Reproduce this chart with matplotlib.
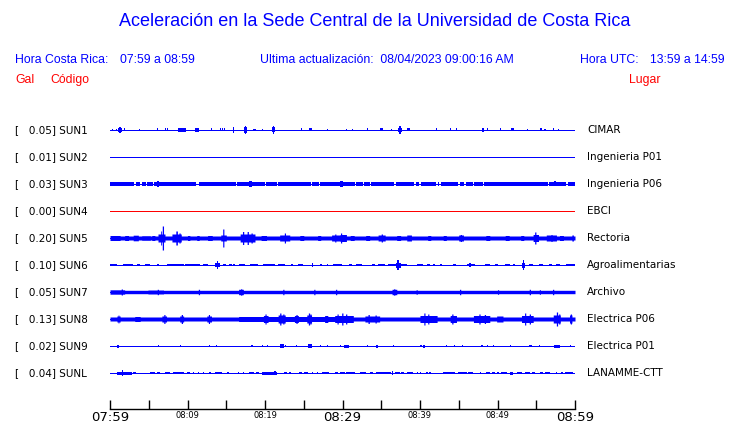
import numpy as np
import matplotlib
matplotlib.use("Agg")
import matplotlib.pyplot as plt

# ---------------- data ----------------
codes = ['SUN1', 'SUN2', 'SUN3', 'SUN4', 'SUN5', 'SUN6', 'SUN7', 'SUN8', 'SUN9', 'SUNL']
gal = [0.05, 0.01, 0.03, 0.00, 0.20, 0.10, 0.05, 0.13, 0.02, 0.04]
places = ['CIMAR', 'Ingenieria P01', 'Ingenieria P06', 'EBCI', 'Rectoria',
          'Agroalimentarias', 'Archivo', 'Electrica P06', 'Electrica P01', 'LANAMME-CTT']
trace_colors = ['#0000ff', '#0000ff', '#0000ff', '#ff0000', '#0000ff',
                '#0000ff', '#0000ff', '#0000ff', '#0000ff', '#0000ff']

# background (minimum) half-amplitude of each trace, in display units
base_amp = [0.0, 0.0, 0.0, 0.0, 2.0, 0.0, 1.7, 2.0, 0.0, 0.0]

# bursts per station: (start minute, end minute, half-amplitude)
bursts_sun1 = [(0.3, 0.45, 1.0), (0.8, 0.95, 1.2), (1.0, 1.6, 2.0), (1.2, 1.35, 3.0), (1.75, 1.95, 1.5),
               (3.75, 3.9, 1.3), (6.05, 6.2, 1.5), (7.15, 7.3, 1.5), (7.4, 7.55, 1.5), (8.8, 9.8, 1.7),
               (11.0, 11.5, 2.0), (13.05, 13.2, 1.5), (14.15, 14.3, 1.5), (14.45, 14.6, 1.5),
               (14.75, 14.9, 1.5), (15.85, 16.0, 3.0), (17.3, 17.7, 3.0), (17.45, 17.6, 4.0),
               (18.4, 18.8, 0.9), (19.55, 19.7, 1.3), (20.9, 21.3, 2.5), (21.0, 21.15, 4.0),
               (24.65, 24.8, 1.5), (25.7, 26.0, 1.5), (28.05, 28.2, 1.0), (30.45, 30.6, 1.0),
               (31.25, 31.4, 1.0), (33.15, 33.3, 1.5), (34.8, 35.3, 1.5), (36.25, 36.4, 1.0),
               (37.2, 37.7, 2.0), (37.35, 37.5, 4.0), (38.3, 38.7, 1.5), (42.0, 42.2, 1.5),
               (43.85, 44.0, 1.5), (44.65, 44.8, 1.5), (48.0, 48.2, 1.7), (48.6, 48.8, 1.5),
               (50.35, 50.5, 1.5), (51.8, 52.1, 1.5), (53.75, 53.9, 1.0), (55.5, 55.7, 1.5),
               (56.0, 56.3, 1.3), (57.1, 57.3, 1.5), (57.75, 57.9, 1.3)]
bursts_sun2 = []
bursts_sun3 = [(0.0, 3.1, 1.7), (3.3, 3.85, 1.7), (4.15, 4.6, 1.7), (4.8, 5.5, 1.7), (5.7, 11.1, 1.7),
               (11.5, 16.2, 1.7), (16.4, 19.9, 1.7), (20.1, 21.6, 1.7), (21.8, 25.9, 1.7),
               (26.1, 27.0, 1.7), (27.2, 31.5, 1.7), (31.7, 32.6, 1.7), (32.8, 33.5, 1.7),
               (33.7, 36.7, 1.7), (36.9, 39.3, 1.7), (39.5, 39.9, 1.7), (40.1, 42.1, 1.7),
               (42.3, 42.5, 1.7), (42.7, 44.9, 1.7), (45.1, 45.7, 1.7), (45.9, 46.8, 1.7),
               (47.0, 48.1, 1.7), (48.3, 56.5, 1.7), (56.7, 58.9, 1.7), (59.1, 60.0, 1.7),
               (6.15, 6.3, 2.5), (6.85, 7.0, 2.0), (18.0, 18.2, 3.0), (22.95, 23.1, 2.0),
               (29.8, 29.95, 2.5), (57.35, 57.5, 2.5)]
bursts_sun4 = []
bursts_sun5 = [(0.0, 1.3, 2.5), (1.9, 2.4, 2.5), (3.0, 3.66, 2.8), (4.1, 5.2, 2.3), (5.4, 5.8, 2.5),
               (6.2, 7.1, 4.0), (6.55, 6.65, 7.0), (6.75, 6.9, 12.0), (8.0, 9.2, 4.0), (8.5, 8.7, 7.0),
               (8.9, 9.05, 5.0), (10.0, 10.3, 2.5), (11.2, 11.5, 2.5), (12.6, 13.2, 2.5),
               (14.3, 15.0, 3.0), (14.55, 14.7, 9.0), (16.8, 18.7, 4.0), (17.1, 17.25, 6.5),
               (17.7, 17.85, 6.5), (18.2, 18.35, 5.0), (19.5, 20.2, 2.5), (21.9, 23.2, 3.0),
               (22.5, 22.65, 5.0), (24.5, 25.0, 2.5), (26.8, 27.2, 2.5), (28.6, 29.7, 3.0),
               (29.0, 29.15, 4.0), (29.7, 30.5, 3.5), (29.75, 29.9, 5.0), (31.0, 31.5, 2.5),
               (33.0, 33.5, 2.5), (34.6, 35.5, 3.0), (35.0, 35.15, 4.0), (37.0, 37.5, 2.5),
               (38.3, 38.9, 3.0), (41.0, 41.4, 2.5), (43.0, 43.4, 2.5), (45.0, 45.6, 3.0),
               (45.2, 45.35, 3.5), (48.5, 49.0, 2.5), (51.0, 51.5, 2.5), (53.0, 53.4, 2.5),
               (54.6, 55.3, 3.5), (54.8, 54.95, 6.0), (56.3, 57.6, 3.0), (56.9, 57.05, 3.5),
               (58.0, 58.5, 2.5), (59.6, 59.8, 3.0)]
bursts_sun6 = [(0.0, 0.86, 1.3), (1.72, 3.0, 1.3), (3.44, 3.87, 1.3), (4.5, 5.16, 1.3), (6.1, 6.3, 1.3),
               (7.3, 9.5, 1.3), (9.7, 11.6, 1.3), (12.0, 12.7, 1.3), (13.5, 14.2, 2.0), (13.75, 13.95, 3.5),
               (14.6, 15.0, 1.3), (15.3, 15.7, 1.3), (15.9, 16.1, 1.3), (16.6, 17.4, 1.3),
               (18.1, 19.1, 1.3), (19.8, 21.3, 1.3), (21.7, 22.6, 1.3), (23.4, 23.65, 1.3),
               (24.3, 24.9, 1.3), (26.0, 26.2, 2.0), (27.1, 27.3, 1.3), (28.0, 28.2, 1.3),
               (28.8, 29.9, 1.3), (30.8, 31.2, 1.3), (31.8, 32.5, 1.3), (33.8, 34.2, 1.3),
               (34.6, 35.5, 1.3), (35.9, 37.0, 1.3), (36.9, 37.5, 2.5), (37.1, 37.3, 5.5),
               (37.4, 38.3, 1.3), (39.6, 40.4, 1.3), (40.9, 41.3, 1.3), (41.7, 41.9, 1.3),
               (42.6, 42.8, 1.3), (44.3, 44.7, 1.3), (46.0, 47.1, 1.3), (46.3, 46.6, 2.0),
               (48.4, 49.0, 1.3), (49.7, 50.1, 1.3), (51.0, 51.6, 1.3), (52.0, 52.3, 1.3),
               (53.1, 53.5, 2.5), (53.25, 53.4, 5.5), (54.0, 54.6, 1.3), (55.3, 55.9, 1.3),
               (56.6, 57.0, 1.3), (57.6, 58.1, 1.3), (58.9, 60.0, 1.3)]
bursts_sun7 = [(0.0, 1.9, 2.2), (1.45, 1.6, 3.0), (4.9, 6.9, 2.0), (6.1, 6.25, 2.7), (11.4, 11.55, 2.7),
               (16.6, 17.2, 2.7), (16.85, 17.0, 3.2), (22.3, 22.45, 2.7), (26.3, 26.45, 2.7),
               (29.1, 29.25, 2.7), (36.4, 37.0, 2.7), (36.6, 36.75, 3.2), (39.5, 39.65, 2.3),
               (45.1, 45.25, 2.7), (50.0, 50.15, 2.3), (54.1, 54.25, 2.7), (55.4, 55.55, 2.3),
               (57.1, 57.25, 2.7)]
bursts_sun8 = [(0.9, 1.3, 3.0), (1.05, 1.15, 4.0), (3.2, 3.9, 2.5), (6.7, 7.3, 3.0), (6.95, 7.1, 4.5),
               (9.0, 9.5, 3.0), (9.2, 9.35, 4.5), (12.5, 13.1, 3.0), (12.7, 12.85, 4.5),
               (16.6, 29.7, 2.5), (19.8, 20.4, 3.5), (20.0, 20.15, 5.0), (21.7, 22.6, 4.0),
               (21.9, 22.05, 6.0), (22.3, 22.45, 5.0), (23.8, 24.3, 3.5), (24.0, 24.15, 4.5),
               (25.4, 26.0, 4.0), (25.6, 25.75, 6.0), (25.8, 25.95, 5.0), (27.7, 28.1, 3.5),
               (29.0, 29.7, 3.5), (29.3, 29.45, 5.0), (29.7, 31.4, 3.5), (29.9, 30.05, 6.0),
               (30.4, 30.55, 5.0), (32.9, 34.8, 3.0), (33.3, 33.45, 4.5), (34.2, 34.35, 4.0),
               (40.0, 42.2, 3.5), (40.5, 40.65, 6.0), (41.0, 41.15, 5.0), (43.9, 44.7, 3.5),
               (44.1, 44.25, 5.0), (46.9, 49.0, 3.5), (47.6, 47.75, 5.0), (48.3, 48.45, 4.5),
               (49.9, 50.7, 3.0), (53.1, 54.6, 3.5), (53.5, 53.65, 6.0), (54.1, 54.25, 5.0),
               (57.2, 58.1, 4.0), (57.6, 57.75, 7.0), (57.9, 58.05, 5.0), (59.3, 59.6, 4.0),
               (59.4, 59.55, 5.0)]
bursts_sun9 = [(0.9, 1.1, 1.5), (6.15, 6.3, 0.8), (9.05, 9.2, 1.0), (12.75, 12.9, 1.0),
               (13.65, 13.8, 1.0), (18.25, 18.4, 1.3), (19.55, 19.7, 1.3), (20.25, 20.4, 1.3),
               (21.9, 22.4, 1.7), (22.55, 22.7, 1.0), (24.05, 24.2, 1.0), (25.6, 26.0, 1.7),
               (27.05, 27.2, 1.0), (28.05, 28.2, 1.0), (29.65, 29.8, 1.3), (30.2, 30.9, 1.5),
               (33.15, 33.3, 1.3), (34.3, 34.6, 1.5), (36.55, 36.7, 0.8), (40.05, 40.2, 1.0),
               (40.4, 40.7, 1.5), (43.35, 43.5, 1.0), (44.35, 44.5, 1.0), (45.45, 45.6, 1.0),
               (47.9, 48.1, 1.3), (48.65, 48.8, 1.0), (49.45, 49.6, 1.3), (51.65, 51.8, 1.0),
               (54.1, 54.5, 1.3), (55.35, 55.5, 1.3), (57.3, 58.1, 1.5), (59.35, 59.5, 1.3)]
bursts_sunl = [(0.9, 2.8, 1.5), (1.5, 1.7, 2.5), (3.0, 3.4, 1.0), (5.2, 5.8, 1.3), (6.1, 6.4, 1.3),
               (7.1, 7.7, 1.3), (8.1, 9.5, 1.3), (9.9, 10.3, 1.2), (10.75, 10.9, 1.0),
               (11.35, 11.5, 1.0), (12.05, 12.2, 0.8), (12.8, 13.0, 1.0), (13.6, 14.4, 1.3),
               (15.1, 15.4, 1.3), (16.55, 16.7, 1.0), (17.2, 17.35, 1.0), (17.9, 18.6, 1.3),
               (18.8, 19.2, 1.3), (19.6, 21.5, 1.5), (21.2, 21.4, 2.0), (22.4, 22.8, 1.3),
               (23.15, 23.3, 1.0), (24.4, 24.8, 1.3), (25.0, 25.5, 1.3), (26.0, 26.15, 1.0),
               (26.7, 26.9, 1.0), (27.4, 28.3, 1.2), (29.0, 29.4, 1.2), (29.7, 30.3, 1.3),
               (30.5, 31.6, 1.2), (32.2, 33.0, 1.2), (33.5, 33.9, 1.2), (34.3, 36.3, 1.3),
               (36.35, 36.5, 2.0), (36.8, 37.4, 1.2), (37.6, 37.9, 1.2), (38.3, 39.1, 1.3),
               (39.55, 39.7, 1.0), (39.95, 40.1, 1.0), (40.8, 41.0, 1.2), (41.2, 41.4, 1.2),
               (43.0, 44.5, 1.3), (44.9, 46.0, 1.3), (46.2, 46.9, 1.2), (47.7, 47.85, 1.0),
               (48.5, 49.0, 1.2), (49.3, 49.7, 1.2), (49.9, 50.2, 1.2), (50.5, 51.2, 1.3),
               (51.6, 52.0, 1.5), (52.5, 53.1, 1.3), (53.5, 54.2, 1.2), (54.5, 54.8, 1.2),
               (55.5, 55.9, 1.3), (56.1, 56.8, 1.2), (57.5, 57.65, 1.0), (58.25, 58.5, 1.0),
               (58.7, 59.8, 1.3)]
bursts = [bursts_sun1, bursts_sun2, bursts_sun3, bursts_sun4, bursts_sun5,
          bursts_sun6, bursts_sun7, bursts_sun8, bursts_sun9, bursts_sunl]

tick_minutes = [0, 5, 10, 15, 20, 25, 30, 35, 40, 45, 50, 55, 60]
tick_labels = ['07:59', '', '08:09', '', '08:19', '', '08:29', '', '08:39', '', '08:49', '', '08:59']
major_labels = ['07:59', '08:29', '08:59']

title = 'Aceleración en la Sede Central de la Universidad de Costa Rica'
hora_cr = '07:59 a 08:59'
hora_utc = '13:59 a 14:59'
actualizacion = '08/04/2023 09:00:16 AM'

# ---------------- figure ----------------
W, H = 740, 423
fig = plt.figure(figsize=(W / 100, H / 100), dpi=100)
BLUE = '#0000ff'
RED = '#ff0000'
HF = 'Liberation Sans'
SUB = 8.8

def fx(px):
    return px / W

def fy(py):
    return 1 - py / H

fig.text(fx(375), fy(22), title, color=BLUE, fontsize=13.0, family=HF, ha='center', va='center')
fig.text(fx(15), fy(60), 'Hora Costa Rica:', color=BLUE, fontsize=SUB, family=HF, ha='left', va='center')
fig.text(fx(120), fy(60), hora_cr, color=BLUE, fontsize=SUB, family=HF, ha='left', va='center')
fig.text(fx(260), fy(60), 'Ultima actualización:  ' + actualizacion, color=BLUE, fontsize=SUB,
         family=HF, ha='left', va='center')
fig.text(fx(580), fy(60), 'Hora UTC:', color=BLUE, fontsize=SUB, family=HF, ha='left', va='center')
fig.text(fx(650), fy(60), hora_utc, color=BLUE, fontsize=SUB, family=HF, ha='left', va='center')
fig.text(fx(15), fy(80), 'Gal', color=RED, fontsize=SUB, family=HF, ha='left', va='center')
fig.text(fx(50), fy(80), 'Código', color=RED, fontsize=SUB, family=HF, ha='left', va='center')
fig.text(fx(629), fy(80), 'Lugar', color=RED, fontsize=SUB, family=HF, ha='left', va='center')

# main axes: x in minutes (0..60), y in row index
row_px = 27.0
top_px, bot_px = 103, 409
ax = fig.add_axes([fx(110), fy(bot_px), fx(465), (bot_px - top_px) / H])
ax.set_xlim(0, 60)
row0_px = 130
ax.set_ylim((bot_px - row0_px) / row_px, (top_px - row0_px) / row_px)
ax.patch.set_alpha(0)
for s in ['top', 'left', 'right']:
    ax.spines[s].set_visible(False)
ax.spines['bottom'].set_linewidth(1.0)
ax.set_yticks([])

t = np.linspace(0, 60, 4801)
for i in range(len(codes)):
    env = np.full_like(t, base_amp[i])
    for (t0, t1, a) in bursts[i]:
        m = (t >= t0) & (t <= t1)
        env[m] = np.maximum(env[m], a)
    env = env / row_px
    ax.fill_between(t, i - env, i + env, where=env > 0, color=trace_colors[i], lw=0,
                    antialiased=False, step='mid')
    ax.plot([0, 60], [i, i], color=trace_colors[i], lw=0.72, antialiased=False)
    ax.text(-95 / 465 * 60, i, '[   %.2f] %s' % (gal[i], codes[i]), fontsize=7.5,
            family='DejaVu Sans', ha='left', va='center', color='black')
    ax.text(60 + 12 / 465 * 60, i, places[i], fontsize=7.5, family='DejaVu Sans',
            ha='left', va='center', color='black')

ax.set_xticks(tick_minutes)
ax.set_xticklabels(tick_labels)
ax.tick_params(axis='x', direction='in', length=6.5, width=1.0, pad=1.5)
for lab in ax.get_xticklabels():
    lab.set_fontsize(9.5 if lab.get_text() in major_labels else 6)

fig.savefig('out.png', dpi=100)
